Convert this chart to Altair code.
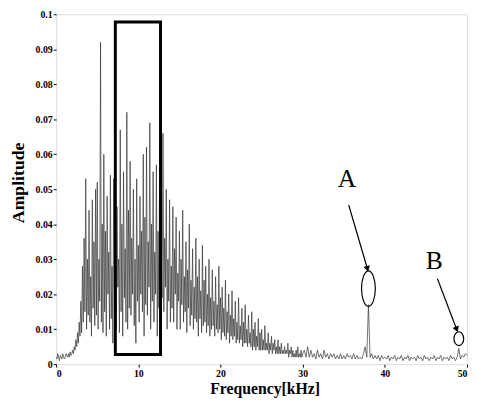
import altair as alt
import pandas as pd

# ---- spectrum amplitudes ----
# 0.0 - 29.9 kHz, 0.1 kHz spacing (ten values per kHz per row)
STEP_LOW = 0.1
amp_0_30 = [
    0.002, 0.0015, 0.003, 0.002, 0.001, 0.0025, 0.002, 0.0015, 0.003, 0.002,
    0.0015, 0.002, 0.003, 0.0025, 0.002, 0.003, 0.002, 0.0035, 0.0025, 0.003,
    0.004, 0.003, 0.005, 0.004, 0.007, 0.005, 0.009, 0.006, 0.012, 0.008,
    0.018, 0.009, 0.028, 0.012, 0.036, 0.015, 0.053, 0.010, 0.030, 0.014,
    0.044, 0.012, 0.025, 0.008, 0.047, 0.016, 0.035, 0.011, 0.050, 0.014,
    0.052, 0.010, 0.030, 0.018, 0.092, 0.012, 0.040, 0.009, 0.060, 0.015,
    0.038, 0.008, 0.048, 0.020, 0.032, 0.010, 0.054, 0.013, 0.028, 0.006,
    0.053, 0.017, 0.035, 0.010, 0.045, 0.022, 0.030, 0.009, 0.067, 0.015,
    0.040, 0.008, 0.055, 0.019, 0.033, 0.012, 0.072, 0.010, 0.044, 0.016,
    0.058, 0.014, 0.036, 0.020, 0.050, 0.011, 0.030, 0.006, 0.053, 0.018,
    0.034, 0.012, 0.048, 0.020, 0.038, 0.015, 0.060, 0.008, 0.042, 0.017,
    0.062, 0.014, 0.035, 0.022, 0.069, 0.010, 0.040, 0.018, 0.055, 0.012,
    0.032, 0.020, 0.057, 0.008, 0.038, 0.016, 0.063, 0.012, 0.030, 0.019,
    0.066, 0.015, 0.036, 0.022, 0.050, 0.010, 0.030, 0.018, 0.047, 0.012,
    0.028, 0.016, 0.045, 0.012, 0.033, 0.020, 0.042, 0.010, 0.026, 0.018,
    0.038, 0.010, 0.030, 0.017, 0.044, 0.012, 0.025, 0.015, 0.035, 0.009,
    0.027, 0.016, 0.040, 0.011, 0.024, 0.014, 0.033, 0.010, 0.022, 0.013,
    0.036, 0.012, 0.025, 0.008, 0.030, 0.013, 0.021, 0.009, 0.034, 0.011,
    0.024, 0.012, 0.028, 0.009, 0.020, 0.011, 0.030, 0.008, 0.019, 0.010,
    0.027, 0.011, 0.018, 0.008, 0.025, 0.010, 0.017, 0.009, 0.028, 0.010,
    0.019, 0.007, 0.022, 0.009, 0.016, 0.008, 0.024, 0.007, 0.015, 0.009,
    0.020, 0.006, 0.014, 0.008, 0.021, 0.007, 0.013, 0.008, 0.018, 0.006,
    0.012, 0.007, 0.019, 0.006, 0.011, 0.007, 0.016, 0.005, 0.012, 0.006,
    0.017, 0.006, 0.010, 0.005, 0.014, 0.006, 0.009, 0.005, 0.015, 0.004,
    0.010, 0.005, 0.012, 0.004, 0.008, 0.005, 0.013, 0.004, 0.009, 0.004,
    0.010, 0.004, 0.007, 0.004, 0.011, 0.004, 0.006, 0.004, 0.009, 0.003,
    0.006, 0.004, 0.008, 0.003, 0.006, 0.004, 0.007, 0.003, 0.005, 0.003,
    0.007, 0.003, 0.005, 0.003, 0.006, 0.003, 0.004, 0.003, 0.005, 0.003,
    0.004, 0.003, 0.006, 0.002, 0.004, 0.003, 0.005, 0.002, 0.004, 0.002,
    0.003, 0.002, 0.004, 0.002, 0.005, 0.002, 0.003, 0.002, 0.004, 0.002,
]
# 30.0 - 50.0 kHz, 0.2 kHz spacing
START_HIGH = 30.0
STEP_HIGH = 0.2
amp_30_50 = [0.003,
             0.004, 0.002, 0.005, 0.002, 0.004, 0.002, 0.003, 0.0015, 0.004, 0.002,
             0.003, 0.0015, 0.004, 0.002, 0.003, 0.0015, 0.003, 0.002, 0.003, 0.0015,
             0.0025, 0.0015, 0.003, 0.0015, 0.0025, 0.0015, 0.003, 0.002, 0.0025, 0.0015,
             0.003, 0.0015, 0.0025, 0.0015, 0.002, 0.0015, 0.003, 0.005, 0.002, 0.017,
             0.002, 0.003, 0.0015, 0.0025, 0.0015, 0.0025, 0.001, 0.0025, 0.0015, 0.002,
             0.0015, 0.0025, 0.001, 0.002, 0.0015, 0.0025, 0.001, 0.002, 0.0015, 0.0025,
             0.001, 0.002, 0.0015, 0.0025, 0.001, 0.002, 0.0015, 0.002, 0.001, 0.0025,
             0.0015, 0.002, 0.001, 0.0025, 0.0015, 0.002, 0.001, 0.002, 0.0015, 0.0025,
             0.001, 0.002, 0.0015, 0.0025, 0.001, 0.002, 0.0015, 0.002, 0.001, 0.0025,
             0.0015, 0.002, 0.001, 0.002, 0.0045, 0.0015, 0.0025, 0.002, 0.003, 0.0025]

# ---- annotations ----
box_freq = [7.2, 12.7]
box_amp = [0.0028, 0.0978]

marker_names = ["A", "B"]
marker_freq = [38.0, 49.0]
marker_amp = [0.0216, 0.0073]
label_freq = [35.4, 46.0]
label_amp = [0.053, 0.0295]
arrow_start_freq = [35.6, 46.4]
arrow_start_amp = [0.0455, 0.0244]
arrow_end_freq = [37.85, 48.7]
arrow_end_amp = [0.0275, 0.0102]
arrow_angle = [165, 159]

x_ticks = [0, 10, 20, 30, 40, 50]
y_ticks = [0, 0.01, 0.02, 0.03, 0.04, 0.05, 0.06, 0.07, 0.08, 0.09, 0.1]

SERIF = "Liberation Serif"

freq = [round(i * STEP_LOW, 1) for i in range(len(amp_0_30))] + \
       [round(START_HIGH + i * STEP_HIGH, 1) for i in range(len(amp_30_50))]
spec = pd.DataFrame({"f": freq, "a": amp_0_30 + amp_30_50})

xscale = alt.Scale(domain=[0, 50], nice=False, zero=False)
yscale = alt.Scale(domain=[0, 0.1], nice=False)

xaxis = alt.Axis(values=x_ticks, tickCount=len(x_ticks), format="d", grid=False,
                 domain=False, tickSize=3,
                 tickColor="black", labelFont=SERIF, labelFontSize=10, labelFontWeight="bold",
                 labelColor="black", labelPadding=2, labelFlush=True, labelOverlap=False,
                 title="Frequency[kHz]",
                 titleFont=SERIF, titleFontSize=16, titleFontWeight="bold", titleColor="black",
                 titleX=212, titleY=25, titleBaseline="middle", titleAnchor="middle")
yaxis = alt.Axis(values=y_ticks, tickCount=len(y_ticks), format="~g", grid=False,
                 domain=False, tickSize=3,
                 tickColor="black", labelFont=SERIF, labelFontSize=10, labelFontWeight="bold",
                 labelColor="black", labelPadding=1, labelOverlap=False, labelFlush=False,
                 title="Amplitude",
                 titleFont=SERIF, titleFontSize=18, titleFontWeight="bold", titleColor="black",
                 titleX=-38, titleY=171, titleBaseline="middle", titleAnchor="middle")

line = alt.Chart(spec).mark_line(color="#333333", strokeWidth=0.7).encode(
    x=alt.X("f:Q", scale=xscale, axis=xaxis),
    y=alt.Y("a:Q", scale=yscale, axis=yaxis),
)

box_df = pd.DataFrame({"x1": [box_freq[0]], "x2": [box_freq[1]],
                       "y1": [box_amp[0]], "y2": [box_amp[1]]})
box = alt.Chart(box_df).mark_rect(filled=False, stroke="black", strokeWidth=3).encode(
    x="x1:Q", x2="x2:Q", y="y1:Q", y2="y2:Q")

ann = pd.DataFrame({
    "name": marker_names, "mf": marker_freq, "ma": marker_amp,
    "lf": label_freq, "la": label_amp,
    "sf": arrow_start_freq, "sa": arrow_start_amp,
    "ef": arrow_end_freq, "ea": arrow_end_amp, "ang": arrow_angle,
})

ell_a = alt.Chart(ann.iloc[[0]]).mark_point(
    shape="M0,-1 A0.39,1 0 1,1 0,1 A0.39,1 0 1,1 0,-1 Z",
    size=1296, filled=False, stroke="black", strokeWidth=1.2, opacity=1).encode(
    x="mf:Q", y="ma:Q")
ell_b = alt.Chart(ann.iloc[[1]]).mark_point(
    shape="M0,-1 A0.71,1 0 1,1 0,1 A0.71,1 0 1,1 0,-1 Z",
    size=196, filled=False, stroke="black", strokeWidth=1.2, opacity=1).encode(
    x="mf:Q", y="ma:Q")

shafts = alt.Chart(ann).mark_rule(color="black", strokeWidth=1.2).encode(
    x="sf:Q", y="sa:Q", x2="ef:Q", y2="ea:Q")
heads = alt.Chart(ann).mark_point(shape="triangle", filled=True, color="black",
                                  size=45, opacity=1).encode(
    x="ef:Q", y="ea:Q", angle=alt.Angle("ang:Q", scale=None))
labels = alt.Chart(ann).mark_text(font=SERIF, fontSize=26, color="black",
                                  baseline="middle", align="center").encode(
    x="lf:Q", y="la:Q", text="name:N")

chart = alt.layer(line, box, ell_a, ell_b, shafts, heads, labels).properties(
    width=418, height=356,
    autosize=alt.AutoSizeParams(type="none"),
    padding={"left": 49, "top": 3, "right": 2, "bottom": 31},
).configure_view(stroke="black", strokeWidth=1.5).configure(background="white")

chart.save("out.html", embed_options={"renderer": "svg", "actions": False})
